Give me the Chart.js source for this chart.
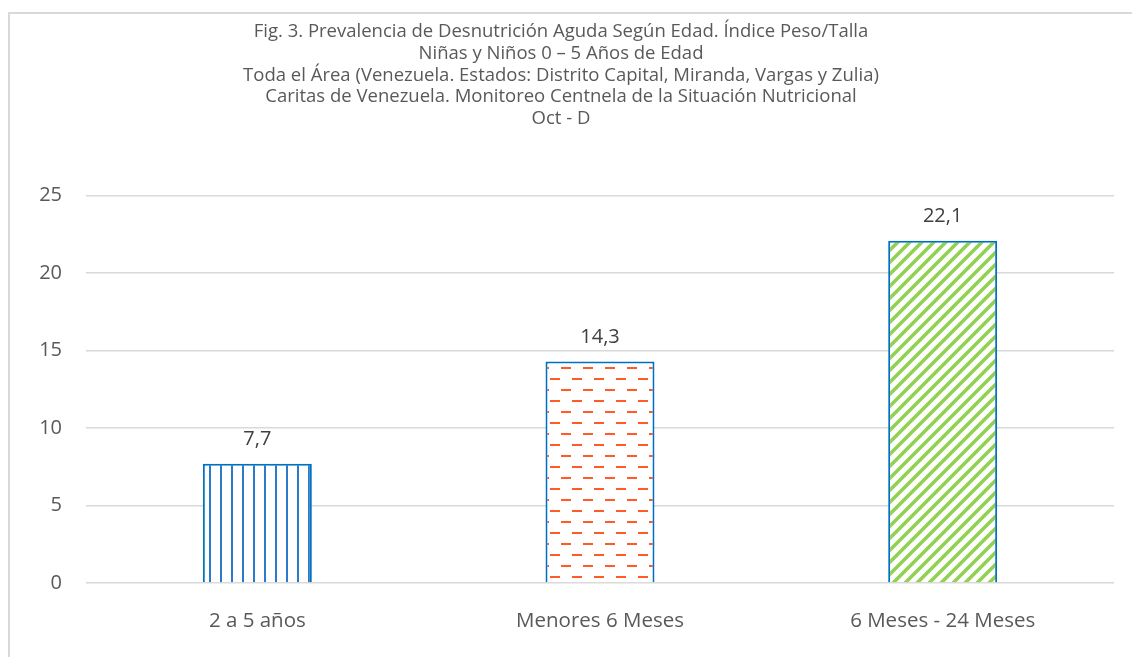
<!DOCTYPE html>
<html>
<head>
<meta charset="utf-8">
<script src="https://cdn.jsdelivr.net/npm/chart.js@4"></script>
<style>
  html, body { margin: 0; padding: 0; background: #fff; overflow: hidden; }
  #marco { position: absolute; left: 8px; top: 12px; width: 1200px; height: 700px;
           border-left: 2px solid #d9d9d9; border-top: 2px solid #d9d9d9; }
  #wrap { position: absolute; left: 0; top: 0; width: 1132px; height: 657px; }
</style>
</head>
<body>
<div id="marco"></div>
<div id="wrap"><canvas id="grafico" width="1132" height="657"></canvas></div>
<script>
// ---- datos ----
const categorias = ["2 a 5 años", "Menores 6 Meses", "6 Meses - 24 Meses"];
const valores = [7.7, 14.3, 22.1];
const etiquetasValor = ["7,7", "14,3", "22,1"];
const titulo = [
  "Fig. 3. Prevalencia de Desnutrición Aguda Según Edad. Índice Peso/Talla",
  "Niñas y Niños 0 – 5 Años de Edad",
  "Toda el Área (Venezuela. Estados: Distrito Capital, Miranda, Vargas y Zulia)",
  "Caritas de Venezuela. Monitoreo Centnela de la Situación Nutricional",
  "Oct - D"
];
const ticksY = [0, 5, 10, 15, 20, 25];

const FUENTE = "'Open Sans', Lato, sans-serif";

// --- tramas de relleno ---
function tile(w, h, dibujar) {
  const c = document.createElement('canvas');
  c.width = w; c.height = h;
  const ctx = c.getContext('2d');
  ctx.fillStyle = '#fff';
  ctx.fillRect(0, 0, w, h);
  dibujar(ctx);
  return document.createElement('canvas').getContext('2d').createPattern(c, 'repeat');
}

// rayas verticales azules
const tramaVertical = tile(11, 11, ctx => {
  ctx.fillStyle = '#2a7bc8';
  ctx.fillRect(0, 0, 2, 11);
});

// guiones naranjas alternados
const tramaGuiones = tile(22, 22, ctx => {
  ctx.fillStyle = '#ff5a28';
  ctx.fillRect(0, 4, 10, 2);
  ctx.fillRect(11, 15, 10, 2);
});

// diagonales verdes
const tramaDiagonal = tile(12, 12, ctx => {
  ctx.strokeStyle = '#92d050';
  ctx.lineWidth = 3.5;
  ctx.beginPath();
  ctx.moveTo(-6, 6); ctx.lineTo(6, -6);
  ctx.moveTo(0, 12); ctx.lineTo(12, 0);
  ctx.moveTo(6, 18); ctx.lineTo(18, 6);
  ctx.stroke();
});

// etiquetas encima de las barras
const etiquetasPlugin = {
  id: 'etiquetas',
  afterDatasetsDraw(chart) {
    const ctx = chart.ctx;
    const meta = chart.getDatasetMeta(0);
    ctx.save();
    ctx.font = "20px " + FUENTE;
    ctx.fillStyle = '#404040';
    ctx.textAlign = 'center';
    ctx.textBaseline = 'alphabetic';
    meta.data.forEach((bar, i) => {
      ctx.fillText(etiquetasValor[i], bar.x, bar.y - 19);
    });
    ctx.restore();
  }
};

new Chart(document.getElementById('grafico'), {
  type: 'bar',
  data: {
    labels: categorias,
    datasets: [{
      data: valores,
      backgroundColor: [tramaVertical, tramaGuiones, tramaDiagonal],
      borderColor: '#0070c0',
      borderWidth: 2,
      categoryPercentage: 1,
      barPercentage: 0.318
    }]
  },
  options: {
    responsive: false,
    animation: false,
    devicePixelRatio: 1,
    layout: { padding: { left: 8, right: 18, top: 0, bottom: 0 } },
    plugins: {
      legend: { display: false },
      tooltip: { enabled: false },
      title: {
        display: true,
        text: titulo,
        color: '#595959',
        font: { family: FUENTE, size: 18.5, weight: 'normal', lineHeight: 1.176 },
        padding: { top: 21, bottom: 66 }
      }
    },
    scales: {
      x: {
        grid: { display: false, drawTicks: false },
        border: { display: false },
        ticks: { color: '#595959', font: { family: FUENTE, size: 20.5 }, padding: 26 },
        afterFit: s => { s.height = 74; }
      },
      y: {
        min: 0, max: 25,
        afterBuildTicks: s => { s.ticks = ticksY.map(v => ({ value: v })); },
        grid: { color: '#d9d9d9', lineWidth: 1.5, drawTicks: false },
        border: { display: false },
        ticks: { color: '#595959', font: { family: FUENTE, size: 20 }, padding: 24 },
        afterFit: s => { s.width = 78; }
      }
    }
  },
  plugins: [etiquetasPlugin]
});
</script>
</body>
</html>
